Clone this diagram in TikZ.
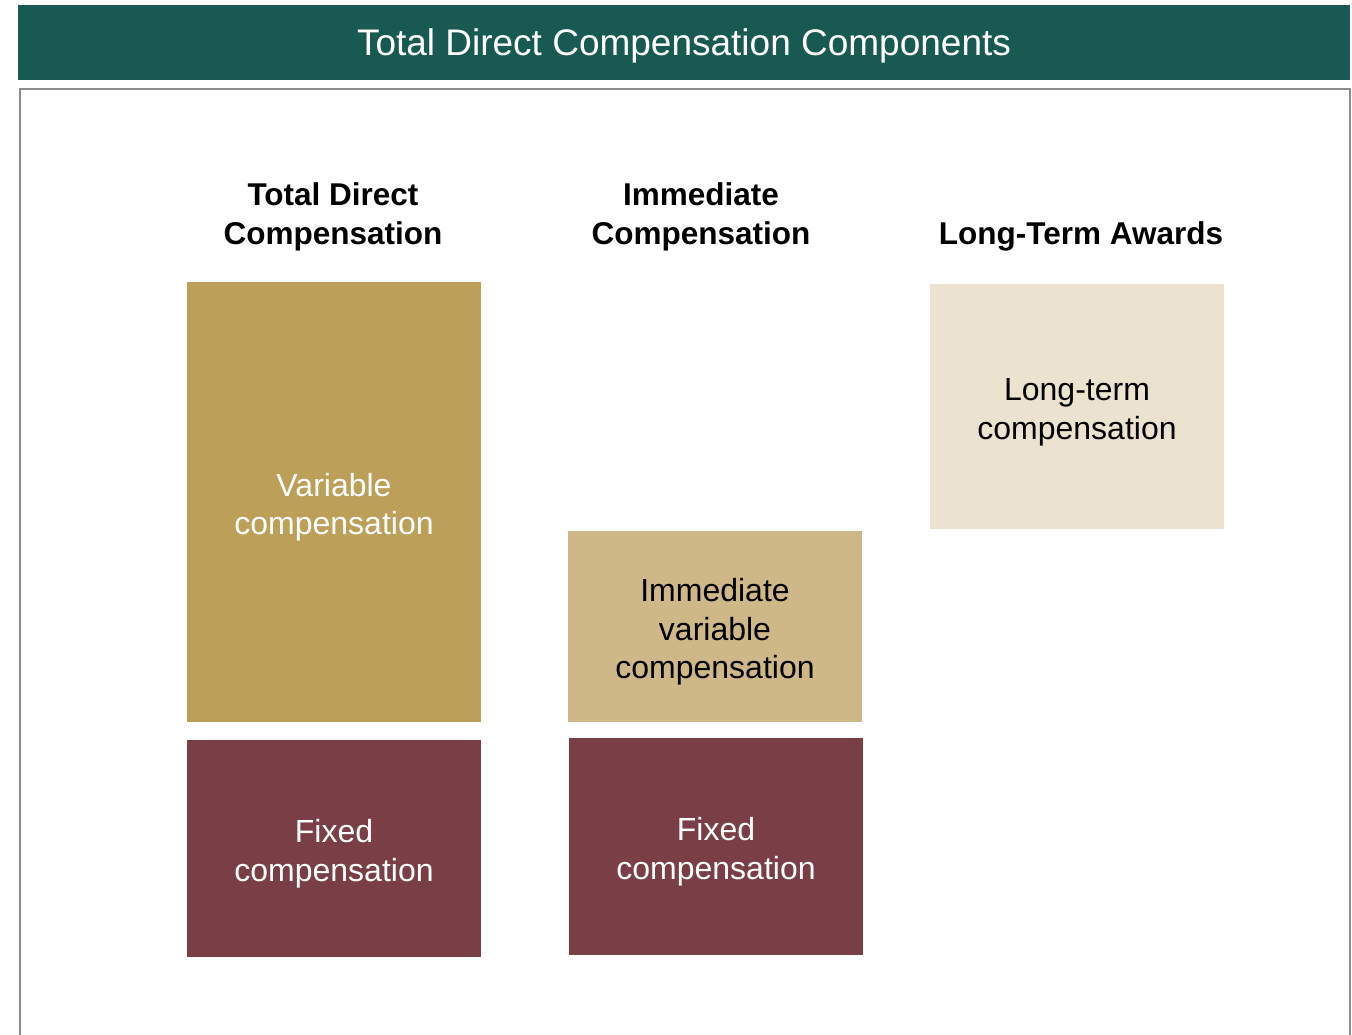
\documentclass[tikz,border=0pt]{standalone}
\usepackage{fontspec}
\setmainfont{Liberation Sans}
\usetikzlibrary{positioning}

\definecolor{bannergreen}{RGB}{24,89,82}
\definecolor{variablegold}{RGB}{188,160,90}
\definecolor{fixedwine}{RGB}{122,63,70}
\definecolor{immediatetan}{RGB}{207,184,135}
\definecolor{longtermcream}{RGB}{235,226,207}
\definecolor{framegray}{RGB}{140,140,140}

% taller first line, so the box text sits a little low
\newcommand{\lowstrut}{\rule{0pt}{34pt}}

\begin{document}
\begin{tikzpicture}
    [x=1pt,y=-1pt,
     compbox/.style={rectangle,inner sep=0pt,minimum width=294pt,align=center,
       font=\fontsize{32}{38.5}\selectfont},
     heading/.style={align=center,font=\fontsize{31.5}{38.5}\selectfont\bfseries}]
    \useasboundingbox (0,0) rectangle (1352,1034);
    % title banner and open frame below it
    \fill[bannergreen] (18,5) rectangle (1350,80);
    \node[text=white,font=\fontsize{37}{44}\selectfont] (title) at (684,46)
      {Total Direct Compensation Components};
    \draw[framegray,line width=2pt] (19.5,1040) -- (19.5,89) -- (1349.5,89) -- (1349.5,1040);
    % column headings
    \node[heading] (totalhead) at (333,217) {Total Direct\\Compensation};
    \node[heading] (immhead) at (701,217) {Immediate\\Compensation};
    \node[heading] (longhead) at (1081,236) {Long-Term Awards};
    % total direct column
    \node[compbox,fill=variablegold,text=white,minimum height=440pt] (variable) at (334,502)
      {\lowstrut Variable\\compensation};
    \node[compbox,fill=fixedwine,text=white,minimum height=217pt] (fixedtotal) at (334,848.5)
      {\lowstrut Fixed\\compensation};
    % immediate column
    \node[compbox,fill=immediatetan,minimum height=191pt] (immvariable) at (715,626.5)
      {\lowstrut Immediate\\variable\\compensation};
    \node[compbox,fill=fixedwine,text=white,minimum height=217pt] (fixedimm) at (716,846.5)
      {\lowstrut Fixed\\compensation};
    % long-term column
    \node[compbox,fill=longtermcream,minimum height=245pt] (longterm) at (1077,406.5)
      {\lowstrut Long-term\\compensation};
\end{tikzpicture}
\end{document}
